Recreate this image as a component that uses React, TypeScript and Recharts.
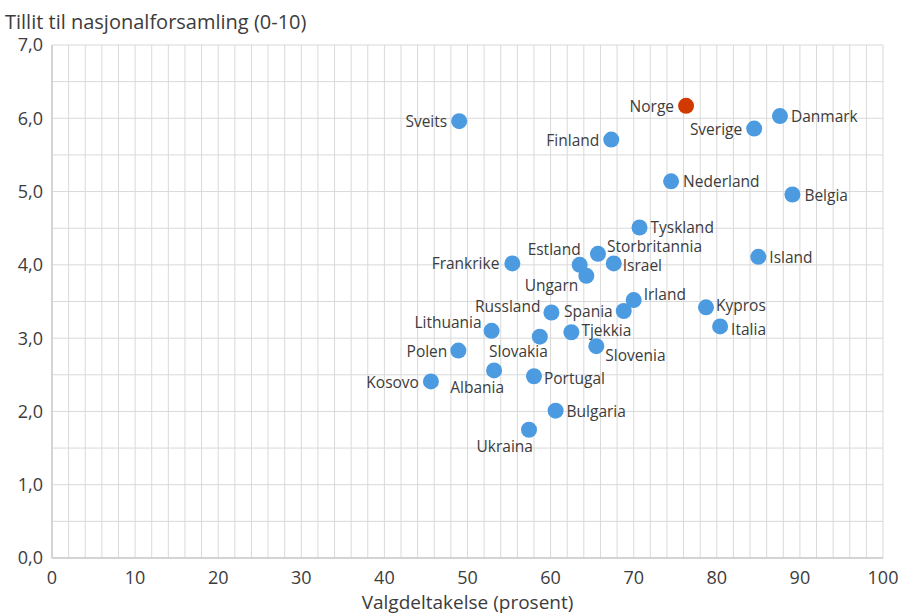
import React from 'react';
import { ScatterChart, Scatter, XAxis, YAxis, CartesianGrid, Label } from 'recharts';

const countries = [
  'Norge', 'Danmark', 'Sverige', 'Sveits', 'Finland', 'Nederland', 'Belgia', 'Tyskland',
  'Storbritannia', 'Estland', 'Israel', 'Frankrike', 'Island', 'Ungarn', 'Irland', 'Kypros',
  'Russland', 'Spania', 'Italia', 'Lithuania', 'Tjekkia', 'Slovakia', 'Slovenia', 'Polen',
  'Albania', 'Portugal', 'Kosovo', 'Bulgaria', 'Ukraina',
];
const turnout = [
  76.3, 87.6, 84.5, 49.0, 67.3, 74.5, 89.1, 70.7,
  65.7, 63.5, 67.6, 55.4, 85.0, 64.3, 70.0, 78.7,
  60.1, 68.8, 80.4, 52.9, 62.5, 58.7, 65.5, 48.9,
  53.2, 58.0, 45.6, 60.6, 57.4,
];
const trust = [
  6.17, 6.03, 5.86, 5.96, 5.71, 5.14, 4.96, 4.51,
  4.15, 4.0, 4.02, 4.02, 4.11, 3.85, 3.52, 3.42,
  3.35, 3.37, 3.16, 3.1, 3.08, 3.02, 2.89, 2.83,
  2.56, 2.48, 2.41, 2.01, 1.75,
];
const highlight = 'Norge';

const xTicks = [0, 10, 20, 30, 40, 50, 60, 70, 80, 90, 100];
const yTicks = [0, 1, 2, 3, 4, 5, 6, 7];
const xGrid = Array.from({ length: 51 }, (_, i) => i * 2);
const yGrid = Array.from({ length: 15 }, (_, i) => i * 0.5);

// label layout: [anchor, dx, dy]
const labelLayout: Record<string, [string, number, number]> = {
  Norge: ['end', -12, 0],
  Danmark: ['start', 11, 0],
  Sverige: ['end', -12, 0],
  Sveits: ['end', -12, 0],
  Finland: ['end', -12, 0],
  Nederland: ['start', 12, 0],
  Belgia: ['start', 12, 0],
  Tyskland: ['start', 11, 0],
  Storbritannia: ['start', 9, -8],
  Estland: ['end', 1, -16],
  Israel: ['start', 9, 2],
  Frankrike: ['end', -13, 0],
  Island: ['start', 11, 0],
  Ungarn: ['end', -8, 9],
  Irland: ['start', 10, -6],
  Kypros: ['start', 10, -2],
  Russland: ['end', -11, -6],
  Spania: ['end', -11, 0],
  Italia: ['start', 11, 3],
  Lithuania: ['end', -10, -9],
  Tjekkia: ['start', 10, -2],
  Slovakia: ['end', 8, 14],
  Slovenia: ['start', 9, 9],
  Polen: ['end', -11, 0],
  Albania: ['end', 10, 17],
  Portugal: ['start', 10, 2],
  Kosovo: ['end', -12, 1],
  Bulgaria: ['start', 11, 0],
  Ukraina: ['end', 4, 16],
};

const FONT = '"Open Sans", sans-serif';
const TEXT = '#3c3c3c';

const DotWithLabel = (props: any) => {
  const { cx, cy, payload } = props;
  if (cx == null || cy == null) return null;
  const lay = labelLayout[payload.name] || ['start', 11, 0];
  const color = payload.name === highlight ? '#d03a00' : '#4c9be0';
  return (
    <g>
      <circle cx={cx} cy={cy} r={8} fill={color} />
      <text
        x={cx + lay[1]}
        y={cy + lay[2]}
        textAnchor={lay[0] as any}
        dominantBaseline="central"
        fontSize={15.5}
        fontFamily={FONT}
        fill={TEXT}
      >
        {payload.name}
      </text>
    </g>
  );
};

const applyScale = (axis: any, v: number): number | null => {
  if (!axis || !axis.scale) return null;
  const s = axis.scale;
  if (typeof s === 'function') return s(v);
  if (typeof s.map === 'function') return s.map(v);
  return null;
};

export default function App() {
  const data = countries.map((name, i) => ({ name, x: turnout[i], y: trust[i] }));
  return (
    <div style={{ position: 'absolute', left: 0, top: 0, width: 912, height: 614, background: '#fff' }}>
      <div
        style={{
          position: 'absolute',
          left: 5,
          top: 11.5,
          fontFamily: FONT,
          fontSize: 20,
          lineHeight: '20px',
          color: TEXT,
          whiteSpace: 'nowrap',
        }}
      >
        Tillit til nasjonalforsamling (0-10)
      </div>
      <ScatterChart width={912} height={614} margin={{ top: 45, right: 29, bottom: 0, left: 0 }}>
        <CartesianGrid
          stroke="#d9d9d9"
          strokeWidth={1}
          verticalCoordinatesGenerator={(p: any) =>
            xGrid.map((v) => {
              const r = applyScale(p.xAxis, v);
              return r == null ? p.offset.left + (v / 100) * p.offset.width : r;
            })
          }
          horizontalCoordinatesGenerator={(p: any) =>
            yGrid.map((v) => {
              const r = applyScale(p.yAxis, v);
              return r == null ? p.offset.top + (1 - v / 7) * p.offset.height : r;
            })
          }
        />
        <XAxis
          type="number"
          dataKey="x"
          domain={[0, 100]}
          ticks={xTicks}
          interval={0}
          tickLine={false}
          tickMargin={7}
          axisLine={{ stroke: '#cccccc', strokeWidth: 1.5 }}
          tick={{ fontSize: 18, fontFamily: FONT, fill: TEXT }}
          height={56}
        >
          <Label
            value="Valgdeltakelse (prosent)"
            position="insideBottom"
            offset={5}
            style={{ fontSize: 19, fontFamily: FONT, fill: TEXT }}
          />
        </XAxis>
        <YAxis
          type="number"
          dataKey="y"
          domain={[0, 7]}
          ticks={yTicks}
          interval={0}
          tickLine={false}
          tickMargin={3}
          axisLine={{ stroke: '#cccccc', strokeWidth: 1.5 }}
          tick={{ fontSize: 18, fontFamily: FONT, fill: TEXT }}
          tickFormatter={(v: number) => v.toFixed(1).replace('.', ',')}
          width={52}
        />
        <Scatter data={data} shape={DotWithLabel} isAnimationActive={false} />
      </ScatterChart>
    </div>
  );
}
